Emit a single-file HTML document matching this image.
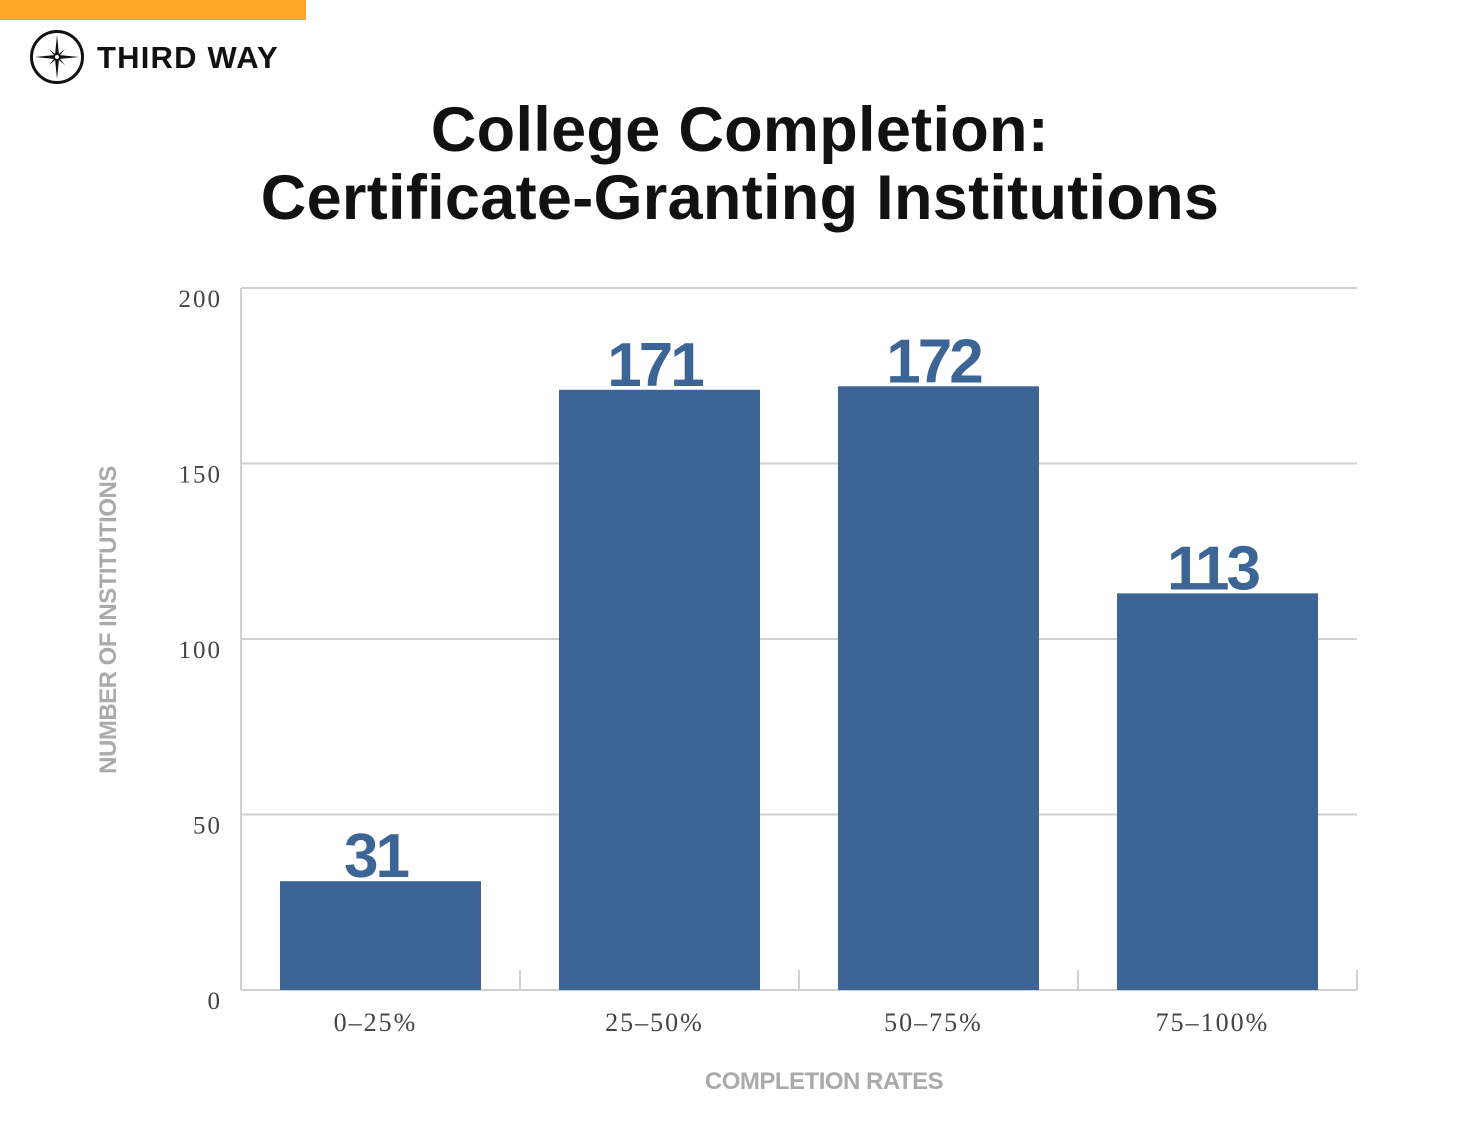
<!DOCTYPE html>
<html><head><meta charset="utf-8"><style>
html,body{margin:0;padding:0;background:#fff;}
body{width:1480px;height:1126px;overflow:hidden;position:relative;font-family:"Liberation Sans",sans-serif;}
</style></head><body>
<div style="position:absolute;left:0;top:0;width:306px;height:20px;background:#fca628;"></div>
<svg width="60" height="60" style="position:absolute;left:27px;top:27px" viewBox="0 0 60 60">
<circle cx="30" cy="30" r="25.5" fill="none" stroke="#111" stroke-width="3"/>
<polygon points="30,8 32,28 52,30 32,32 30,52 28,32 8,30 28,28" fill="#111"/>
<polygon points="38,22 31.5,30 38,38 30,31.5 22,38 28.5,30 22,22 30,28.5" fill="#111"/>
<circle cx="30" cy="30" r="2" fill="#fff"/>
</svg>
<div style="position:absolute;left:97px;top:40px;font-size:31px;font-weight:bold;color:#111;letter-spacing:1.2px;">THIRD WAY</div>
<div style="position:absolute;left:0;width:1480px;top:96px;text-align:center;font-size:63px;font-weight:bold;line-height:68px;color:#111;letter-spacing:0.3px;">College Completion:<br>Certificate-Granting Institutions</div>
<svg id="chart" width="1480" height="1126" style="position:absolute;left:0;top:0"></svg>
<script>
const categories=["0–25%","25–50%","50–75%","75–100%"];
const values=[31,171,172,113];
const yTicks=[0,50,100,150,200];
const NS="http://www.w3.org/2000/svg";
const svg=document.getElementById("chart");
const x0=241,x1=1357,yBase=990,yTop=288,maxV=200;
const band=(x1-x0)/categories.length;
function y(v){return yBase-(v/maxV)*(yBase-yTop);}
function xBand(i){return x0+i*band;}
function mk(t,a,txt){const e=document.createElementNS(NS,t);for(const k in a)e.setAttribute(k,a[k]);if(txt!==undefined)e.textContent=txt;svg.appendChild(e);return e;}
yTicks.forEach(t=>{
  if(t>0){const g=mk("line",{x1:x0,x2:x1,y1:y(t),y2:y(t),stroke:"#d0d0d0","stroke-width":2});
  
  }
  const l=mk("text",{x:222,y:y(t)+19,"text-anchor":"end","font-family":"Liberation Serif, serif","font-size":25,fill:"#444","letter-spacing":"2"},String(t));
  
  
});
const ya=mk("line",{x1:x0,x2:x0,y1:yTop,y2:yBase,stroke:"#d0d0d0","stroke-width":2});


const xa=mk("line",{x1:x0,x2:x1,y1:yBase,y2:yBase,stroke:"#d0d0d0","stroke-width":2});


for(let i=1;i<=categories.length;i++){
  const tk=mk("line",{x1:xBand(i),x2:xBand(i),y1:yBase-20,y2:yBase,stroke:"#d0d0d0","stroke-width":2});
  
  
}
const bw=201,off=39;
categories.forEach((c,i)=>{
  const bx=xBand(i)+off;
  const r=mk("rect",{x:bx,y:y(values[i]),width:bw,height:yBase-y(values[i]),fill:"#3c6595"});
  
  
  const v=mk("text",{x:bx+bw/2-5,y:y(values[i])-4,"text-anchor":"middle","font-size":62,"font-weight":"bold",fill:"#3c6595","letter-spacing":"-3"},String(values[i]));
  
  
  const l=mk("text",{x:bx+bw/2-5,y:1031,"text-anchor":"middle","font-family":"Liberation Serif, serif","font-size":26,fill:"#444","letter-spacing":"2"},c);
  
  
});
const xt=mk("text",{x:824,y:1089,"text-anchor":"middle","font-size":24,"font-weight":"bold",fill:"#aaa","letter-spacing":"-0.5"},"COMPLETION RATES");


const yt=mk("text",{x:0,y:0,transform:"translate(116,620) rotate(-90)","text-anchor":"middle","font-size":24,"font-weight":"bold",fill:"#aaa","letter-spacing":"-0.5"},"NUMBER OF INSTITUTIONS");


</script>
</body></html>
